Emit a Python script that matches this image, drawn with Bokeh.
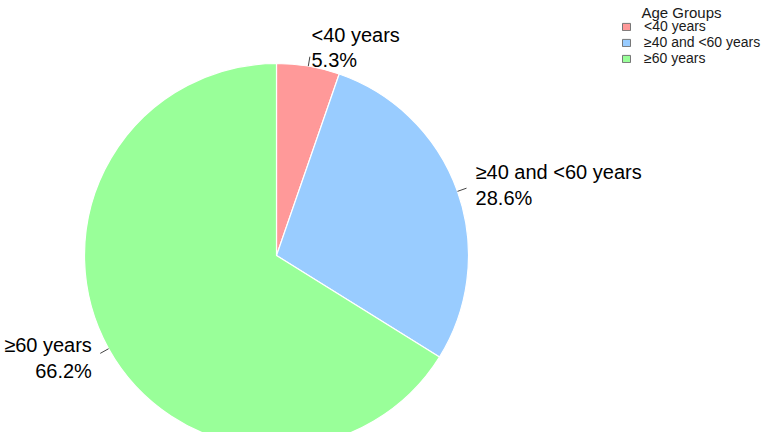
import numpy as np
from bokeh.plotting import figure
from bokeh.models import Range1d, ColumnDataSource, Legend, LegendItem, Label
from bokeh.core.properties import value
from bokeh.embed import file_html
from bokeh.resources import INLINE

# ---- data ----
categories = ["<40 years", "≥40 and <60 years", "≥60 years"]
percents = [5.3, 28.6, 66.2]
colors = ["#FF9999", "#99CCFF", "#99FF99"]
legend_title = "Age Groups"

# ---- layout (image pixel units; y measured upward from image bottom) ----
W, H = 765, 432
IH = 448
cx, cy, r = 276, IH - 255, 192

p = figure(width=W, height=H, output_backend="svg", toolbar_location=None,
           x_range=Range1d(0, W), y_range=Range1d(IH - H, IH),
           x_axis_location=None, y_axis_location=None, min_border=0)
p.grid.visible = False
p.outline_line_color = None
p.background_fill_color = "white"

vals = np.array(percents, dtype=float)
frac = vals / vals.sum()
cum_end = np.cumsum(frac)
cum_start = cum_end - frac
start_angle = np.pi / 2 - cum_end * 2 * np.pi
end_angle = np.pi / 2 - cum_start * 2 * np.pi
mid = np.pi / 2 - (cum_start + frac / 2) * 2 * np.pi

src = ColumnDataSource(dict(start=start_angle, end=end_angle, color=colors))
p.wedge(x=cx, y=cy, radius=r, start_angle="start", end_angle="end",
        fill_color="color", line_color="white", line_width=1.2, source=src)

# leader lines
x0 = cx + r * np.cos(mid)
y0 = cy + r * np.sin(mid)
x1 = cx + 1.05 * r * np.cos(mid)
y1 = cy + 1.05 * r * np.sin(mid)
p.segment(x0=x0, y0=y0, x1=x1, y1=y1, line_color="#444444", line_width=1)

# labels
tx = cx + 1.1 * r * np.cos(mid)
ty = cy + 1.1 * r * np.sin(mid)
align = ["left" if np.cos(m) >= 0 else "right" for m in mid]
texts = [f"{c}\n{v:.1f}%" for c, v in zip(categories, percents)]
lsrc = ColumnDataSource(dict(x=tx, y=ty, t=texts, a=align))
p.text(x="x", y="y", text="t", text_align="a", text_baseline="middle",
       text_font=value("Liberation Sans"), text_font_size="20px",
       text_color="black", text_line_height=1.15, source=lsrc)

# legend
items = []
for c, col in zip(categories, colors):
    rr = p.rect(x=[np.nan], y=[np.nan], width=1, height=1,
                fill_color=col, line_color="#777777", line_width=1)
    items.append(LegendItem(label=c, renderers=[rr]))
leg = Legend(items=items, location=(621, H - 66),
             padding=0, margin=0, spacing=0,
             glyph_width=10, glyph_height=9, label_standoff=13, label_height=16,
             label_text_font="Liberation Sans", label_text_font_size="14px",
             label_text_color="#1a1a1a", border_line_color=None,
             background_fill_alpha=0)
p.add_layout(leg)

p.add_layout(Label(x=641, y=IH - 12, text=legend_title,
                   text_font="Liberation Sans", text_font_size="15px",
                   text_color="#1a1a1a", text_baseline="alphabetic"))

open("out.html", "w").write(file_html(p, INLINE))
